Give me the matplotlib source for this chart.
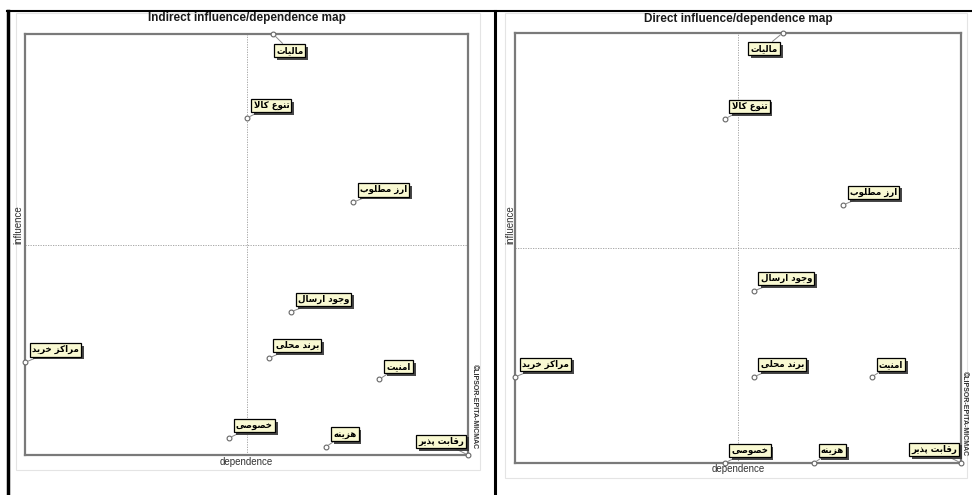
import matplotlib
matplotlib.use('Agg')
import matplotlib.pyplot as plt
import matplotlib.patheffects as pe
from matplotlib.lines import Line2D
from matplotlib.patches import Rectangle

# Variables (Persian labels) and their positions on both maps (0..1 scale)
labels = ['مالیات', 'تنوع کالا', 'ارز مطلوب', 'وجود ارسال', 'برند محلی',
          'مراکز خرید', 'امنیت', 'خصوصی', 'هزینه', 'رقابت پذیر']
indirect_dep = [0.56, 0.50, 0.74, 0.60, 0.55, 0.00, 0.80, 0.46, 0.68, 1.00]
indirect_inf = [1.00, 0.80, 0.60, 0.34, 0.23, 0.22, 0.18, 0.04, 0.02, 0.00]
direct_dep = [0.60, 0.47, 0.735, 0.535, 0.535, 0.00, 0.80, 0.47, 0.67, 1.00]
direct_inf = [1.00, 0.80, 0.60, 0.40, 0.20, 0.20, 0.20, 0.00, 0.00, 0.00]

W, H = 972, 495

# simple Arabic/Persian shaping (matplotlib has no text shaping)
FORMS = {
    'ا': ('\uFE8D', '\uFE8E', None, None),
    'ب': ('\uFE8F', '\uFE90', '\uFE91', '\uFE92'),
    'پ': ('\uFB56', '\uFB57', '\uFB58', '\uFB59'),
    'ت': ('\uFE95', '\uFE96', '\uFE97', '\uFE98'),
    'ج': ('\uFE9D', '\uFE9E', '\uFE9F', '\uFEA0'),
    'ح': ('\uFEA1', '\uFEA2', '\uFEA3', '\uFEA4'),
    'خ': ('\uFEA5', '\uFEA6', '\uFEA7', '\uFEA8'),
    'د': ('\uFEA9', '\uFEAA', None, None),
    'ذ': ('\uFEAB', '\uFEAC', None, None),
    'ر': ('\uFEAD', '\uFEAE', None, None),
    'ز': ('\uFEAF', '\uFEB0', None, None),
    'س': ('\uFEB1', '\uFEB2', '\uFEB3', '\uFEB4'),
    'ص': ('\uFEB9', '\uFEBA', '\uFEBB', '\uFEBC'),
    'ط': ('\uFEC1', '\uFEC2', '\uFEC3', '\uFEC4'),
    'ع': ('\uFEC9', '\uFECA', '\uFECB', '\uFECC'),
    'ق': ('\uFED5', '\uFED6', '\uFED7', '\uFED8'),
    'ک': ('\uFB8E', '\uFB8F', '\uFB90', '\uFB91'),
    'ل': ('\uFEDD', '\uFEDE', '\uFEDF', '\uFEE0'),
    'م': ('\uFEE1', '\uFEE2', '\uFEE3', '\uFEE4'),
    'ن': ('\uFEE5', '\uFEE6', '\uFEE7', '\uFEE8'),
    'ه': ('\uFEE9', '\uFEEA', '\uFEEB', '\uFEEC'),
    'و': ('\uFEED', '\uFEEE', None, None),
    'ی': ('\uFBFC', '\uFBFD', '\uFBFE', '\uFBFF'),
}


def shape(s):
    out = []
    i = 0
    while i < len(s):
        c = s[i]
        if c not in FORMS:
            out.append(c)
            i += 1
            continue
        prev = s[i - 1] if i > 0 else None
        joins_prev = prev in FORMS and FORMS[prev][2] is not None
        if c == 'ل' and i + 1 < len(s) and s[i + 1] == 'ا':
            out.append('\uFEFC' if joins_prev else '\uFEFB')
            i += 2
            continue
        nxt = s[i + 1] if i + 1 < len(s) else None
        joins_next = FORMS[c][2] is not None and nxt in FORMS
        iso, fin, ini, med = FORMS[c]
        if joins_prev and joins_next:
            out.append(med)
        elif joins_prev:
            out.append(fin)
        elif joins_next:
            out.append(ini)
        else:
            out.append(iso)
        i += 1
    return ''.join(reversed(out))


def frac(x0, y0, x1, y1):
    return [x0 / W, 1 - y1 / H, (x1 - x0) / W, (y1 - y0) / H]


fig = plt.figure(figsize=(W / 100, H / 100), dpi=100)
fig.patch.set_facecolor('white')

# black outer frames
for xs, ys, lw in [([7, 972], [11, 11], 1.5), ([8, 8], [11, 495], 2.5),
                   ([495, 495], [11, 495], 2.2)]:
    fig.add_artist(Line2D([x / W for x in xs], [1 - y / H for y in ys],
                          color='black', lw=lw))

# light gray chart areas
for x0, y0, x1, y1 in [(16, 13, 480, 470), (505, 13, 967, 478)]:
    fig.add_artist(Rectangle((x0 / W, 1 - y1 / H), (x1 - x0) / W, (y1 - y0) / H,
                             fill=False, edgecolor='#e4e4e4', lw=0.8))

# default label offset (pixels) and a few special ones
default_off = (7, 8, 'left', 'bottom')
panels = [
    dict(rect=(25, 34, 468, 455), title='Indirect influence/dependence map',
         dep=indirect_dep, inf=indirect_inf, title_y=18, dep_y=462, inf_xy=(18, 225),
         wm_xy=(474, 407),
         offs={0: (3, -12, 'left', 'top'), 9: (-4, 9, 'right', 'bottom')}),
    dict(rect=(515, 33, 961, 463), title='Direct influence/dependence map',
         dep=direct_dep, inf=direct_inf, title_y=19, dep_y=469, inf_xy=(510, 225),
         wm_xy=(964, 414),
         offs={0: (-5, -11, 'right', 'top'), 9: (-4, 9, 'right', 'bottom')}),
]

for p in panels:
    x0, y0, x1, y1 = p['rect']
    ax = fig.add_axes(frac(x0, y0, x1, y1))
    ax.set_xlim(0, 1)
    ax.set_ylim(0, 1)
    ax.set_xticks([])
    ax.set_yticks([])
    for sp in ax.spines.values():
        sp.set_color('#7a7a7a')
        sp.set_linewidth(1.6)
    ax.axvline(0.5, color='#9a9a9a', lw=0.6, ls=(0, (1.5, 1.5)))
    ax.axhline(0.5, color='#9a9a9a', lw=0.6, ls=(0, (1.5, 1.5)))

    ax.scatter(p['dep'], p['inf'], s=12, facecolors='white', edgecolors='#666666',
               linewidths=0.8, clip_on=False, zorder=5)

    for i, lab in enumerate(labels):
        dx, dy, ha, va = p['offs'].get(i, default_off)
        t = ax.annotate(shape(lab), (p['dep'][i], p['inf'][i]),
                        xytext=(dx, dy), textcoords='offset pixels',
                        ha=ha, va=va, fontsize=6.2, fontweight='bold',
                        family=['DejaVu Sans'], color='black', zorder=6,
                        annotation_clip=False,
                        bbox=dict(boxstyle='square,pad=0.25', fc='#f9f9d2',
                                  ec='black', lw=0.9),
                        arrowprops=dict(arrowstyle='-', color='#888888', lw=0.7,
                                        shrinkA=0, shrinkB=2))
        t.get_bbox_patch().set_path_effects(
            [pe.SimplePatchShadow(offset=(2, -2), shadow_rgbFace='#333333', alpha=0.9),
             pe.Normal()])

    cx = (x0 + x1) / 2
    fig.text(cx / W, 1 - p['title_y'] / H, p['title'], ha='center', va='center',
             fontsize=8.5, fontweight='bold', family='Liberation Sans', color='#1a1a1a')
    fig.text(cx / W, 1 - p['dep_y'] / H, 'dependence', ha='center', va='center',
             fontsize=7, family='Liberation Sans', color='#333333')
    fig.text(p['inf_xy'][0] / W, 1 - p['inf_xy'][1] / H, 'influence', ha='center',
             va='center', rotation=90, fontsize=7, family='Liberation Sans',
             color='#333333')
    fig.text(p['wm_xy'][0] / W, 1 - p['wm_xy'][1] / H, '©LIPSOR-EPITA-MICMAC',
             ha='center', va='center', rotation=270, fontsize=5, fontweight='bold',
             family='Liberation Sans', color='#333333')

plt.savefig('out.png', dpi=100)
